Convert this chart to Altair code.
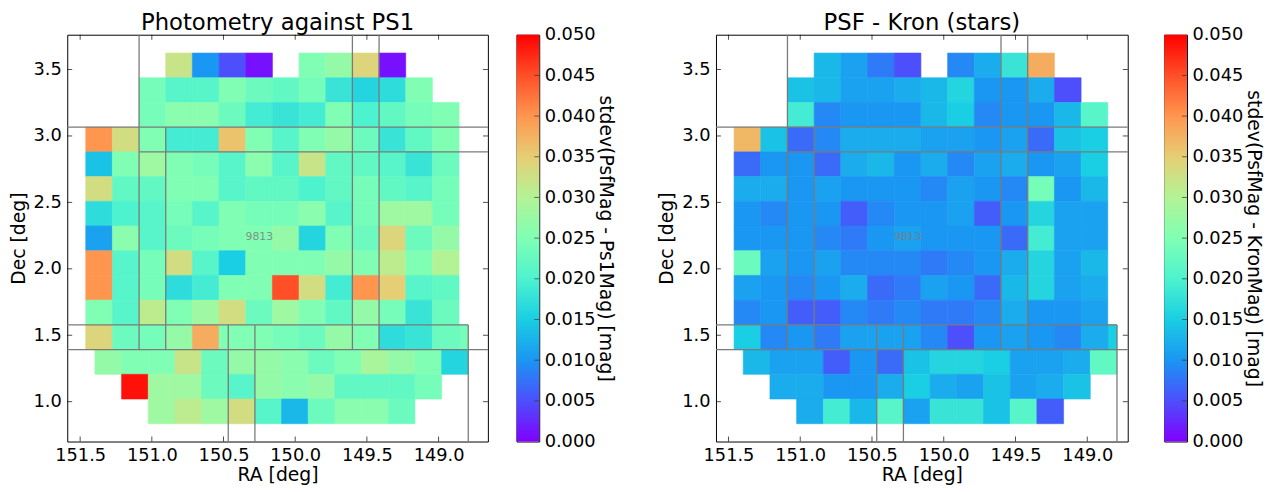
import altair as alt
import pandas as pd

FONT = "DejaVu Sans"

# ---- binning grid (deg) ----
CELL = 0.186
UPPER_RA0, UPPER_DEC0 = 151.461, 3.624
LOWER_RA0, LOWER_DEC0 = 151.397, 1.578

# rows top->bottom: (first column index, values); None = empty bin
PHOT_UPPER = [
    (3, [0.032, 0.010, 0.005, 0.001, None, 0.025, 0.027, 0.034, 0.001]),
    (2, [0.024, 0.021, 0.021, 0.025, 0.023, 0.022, 0.024, 0.018, 0.016, 0.017, 0.025]),
    (2, [0.024, 0.026, 0.026, 0.023, 0.019, 0.018, 0.019, 0.025, 0.020, 0.022, 0.024, 0.025]),
    (0, [0.040, 0.033, 0.025, 0.019, 0.019, 0.036, 0.025, 0.021, 0.025, 0.027, 0.023, 0.018, 0.022, 0.025]),
    (0, [0.014, 0.025, 0.028, 0.025, 0.024, 0.021, 0.026, 0.021, 0.032, 0.022, 0.022, 0.021, 0.018, 0.023]),
    (0, [0.033, 0.022, 0.022, 0.025, 0.025, 0.021, 0.022, 0.022, 0.020, 0.022, 0.024, 0.022, 0.021, 0.024]),
    (0, [0.017, 0.020, 0.021, 0.024, 0.021, 0.025, 0.024, 0.024, 0.026, 0.021, 0.024, 0.028, 0.028, 0.024]),
    (0, [0.011, 0.026, 0.021, 0.023, 0.024, 0.025, 0.025, 0.027, 0.016, 0.025, 0.023, 0.034, 0.023, 0.027]),
    (0, [0.040, 0.021, 0.024, 0.033, 0.021, 0.015, 0.025, 0.025, 0.025, 0.027, 0.025, 0.031, 0.025, 0.030]),
    (0, [0.040, 0.021, 0.024, 0.017, 0.019, 0.025, 0.025, 0.045, 0.033, 0.019, 0.040, 0.035, 0.021, 0.022]),
    (0, [0.025, 0.021, 0.031, 0.025, 0.028, 0.033, 0.023, 0.028, 0.025, 0.022, 0.027, 0.024, 0.018, 0.023]),
    (0, [0.034, 0.023, 0.024, 0.027, 0.038, 0.025, 0.025, 0.024, 0.023, 0.027, 0.025, 0.017, 0.018, 0.023]),
]
PHOT_LOWER = [
    (13, [0.024]),
    (0, [0.027, 0.025, 0.025, 0.032, 0.023, 0.027, 0.027, 0.026, 0.023, 0.025, 0.029, 0.027, 0.025, 0.016]),
    (1, [0.049, 0.028, 0.028, 0.023, 0.021, 0.027, 0.026, 0.027, 0.022, 0.022, 0.022, 0.024]),
    (2, [0.028, 0.031, 0.028, 0.033, 0.021, 0.013, 0.023, 0.026, 0.026, 0.023]),
]
KRON_UPPER = [
    (3, [0.013, 0.011, 0.008, 0.005, None, 0.009, 0.012, 0.018, 0.038]),
    (2, [0.014, 0.013, 0.011, 0.011, 0.012, 0.013, 0.016, 0.010, 0.010, 0.012, 0.005]),
    (2, [0.019, 0.009, 0.010, 0.010, 0.010, 0.013, 0.015, 0.009, 0.010, 0.010, 0.013, 0.021]),
    (0, [0.037, 0.014, 0.007, 0.009, 0.012, 0.012, 0.012, 0.011, 0.011, 0.010, 0.011, 0.007, 0.014, 0.015]),
    (0, [0.007, 0.010, 0.010, 0.007, 0.012, 0.013, 0.010, 0.012, 0.009, 0.011, 0.012, 0.010, 0.011, 0.015]),
    (0, [0.012, 0.012, 0.010, 0.011, 0.010, 0.010, 0.010, 0.009, 0.011, 0.010, 0.009, 0.024, 0.010, 0.013]),
    (0, [0.010, 0.009, 0.010, 0.010, 0.006, 0.009, 0.010, 0.010, 0.011, 0.006, 0.010, 0.016, 0.011, 0.011]),
    (0, [0.010, 0.010, 0.010, 0.009, 0.008, 0.010, 0.011, 0.010, 0.010, 0.010, 0.007, 0.019, 0.011, 0.011]),
    (0, [0.023, 0.011, 0.010, 0.011, 0.009, 0.009, 0.009, 0.008, 0.009, 0.010, 0.012, 0.016, 0.011, 0.013]),
    (0, [0.011, 0.010, 0.009, 0.010, 0.012, 0.007, 0.008, 0.011, 0.010, 0.007, 0.013, 0.016, 0.011, 0.012]),
    (0, [0.009, 0.010, 0.006, 0.006, 0.009, 0.008, 0.009, 0.008, 0.008, 0.009, 0.012, 0.010, 0.010, 0.011]),
    (0, [0.015, 0.009, 0.010, 0.008, 0.011, 0.011, 0.011, 0.009, 0.005, 0.010, 0.011, 0.010, 0.009, 0.012]),
]
KRON_LOWER = [
    (13, [0.015]),
    (0, [0.013, 0.011, 0.011, 0.006, 0.010, 0.007, 0.014, 0.016, 0.016, 0.015, 0.011, 0.011, 0.012, 0.022]),
    (1, [0.012, 0.012, 0.010, 0.010, 0.012, 0.015, 0.012, 0.011, 0.014, 0.011, 0.012, 0.014]),
    (2, [0.012, 0.019, 0.013, 0.021, 0.011, 0.018, 0.018, 0.014, 0.021, 0.006]),
]

# patch boundaries (deg): vertical (RA, dec from, dec to), horizontal (Dec, RA from, RA to)
PATCH_V = [(151.089, 1.392, 4.0), (150.903, 1.392, 3.066), (149.601, 1.392, 4.0),
           (149.415, 1.392, 4.0), (150.467, 0.0, 1.578), (150.281, 0.0, 1.578),
           (148.793, 0.0, 1.578)]
PATCH_H = [(3.066, 152.0, 148.0), (2.880, 151.089, 148.0), (1.578, 152.0, 148.793),
           (1.392, 152.0, 148.0)]
TRACT = ("9813", 150.25, 2.24)

X_TICKS = [151.5, 151.0, 150.5, 150.0, 149.5, 149.0]
Y_TICKS = [1.0, 1.5, 2.0, 2.5, 3.0, 3.5]
CBAR_TICKS = [0.0, 0.005, 0.010, 0.015, 0.020, 0.025, 0.030, 0.035, 0.040, 0.045, 0.050]
RAINBOW = ["#8000ff", "#4d4ffc", "#1a96f3", "#1acee3", "#4df3ce", "#80ffb4",
           "#b3f396", "#e6ce74", "#ff964f", "#ff4f28", "#ff0000"]

DEC_DOMAIN = [0.700, 3.762]
PANELS = [
    dict(title="Photometry against PS1", upper=PHOT_UPPER, lower=PHOT_LOWER,
         ra=[148.656, 151.590], width=426,
         clabel="stdev(PsfMag - Ps1Mag) [mag]"),
    dict(title="PSF - Kron (stars)", upper=KRON_UPPER, lower=KRON_LOWER,
         ra=[148.718, 151.587], width=417,
         clabel="stdev(PsfMag - KronMag) [mag]"),
]
HEIGHT = 412
TICK = dict(size=5, thickness=1, color="black")


def cells(rows, ra0, dec0):
    out = []
    for r, (c0, vals) in enumerate(rows):
        for j, v in enumerate(vals):
            if v is None:
                continue
            c = c0 + j
            out.append(dict(ra1=ra0 - CELL * c, ra2=ra0 - CELL * (c + 1),
                            dec1=dec0 - CELL * r, dec2=dec0 - CELL * (r + 1), v=v))
    return out


cscale = alt.Scale(domain=CBAR_TICKS, range=RAINBOW, interpolate="rgb", clamp=True)


def panel(p):
    w = p["width"]
    xs = alt.Scale(domain=p["ra"], reverse=True, nice=False, zero=False)
    ys = alt.Scale(domain=DEC_DOMAIN, nice=False, zero=False)
    ax_x = alt.Axis(values=X_TICKS, format=".1f", ticks=False, domain=False, grid=False,
                    labelPadding=5, titlePadding=1, labelFlush=False)
    ax_y = alt.Axis(values=Y_TICKS, format=".1f", ticks=False, domain=False, grid=False,
                    labelPadding=6, titlePadding=5, labelFlush=False)

    def X(f):
        return alt.X(f, scale=xs, axis=ax_x, title="RA [deg]")

    def Y(f):
        return alt.Y(f, scale=ys, axis=ax_y, title="Dec [deg]")

    df = pd.DataFrame(cells(p["lower"], LOWER_RA0, LOWER_DEC0) +
                      cells(p["upper"], UPPER_RA0, UPPER_DEC0))
    heat = alt.Chart(df).mark_rect(strokeWidth=0.6).encode(
        x=X("ra1:Q"), x2="ra2:Q", y=Y("dec1:Q"), y2="dec2:Q",
        color=alt.Color("v:Q", scale=cscale, legend=None),
        stroke=alt.Stroke("v:Q", scale=cscale, legend=None),
    )
    lines = [dict(a1=ra, a2=ra, d1=d1, d2=d2) for ra, d1, d2 in PATCH_V] + \
            [dict(a1=r1, a2=r2, d1=dec, d2=dec) for dec, r1, r2 in PATCH_H]
    rules = alt.Chart(pd.DataFrame(lines)).mark_rule(color="#7a7a7a", strokeWidth=1.3, clip=True).encode(
        x=X("a1:Q"), x2="a2:Q", y=Y("d1:Q"), y2="d2:Q")
    txt = alt.Chart(pd.DataFrame([dict(t=TRACT[0], ra=TRACT[1], dec=TRACT[2])])).mark_text(
        font=FONT, fontSize=11, color="#7f7f7f", opacity=0.85).encode(
        x=X("ra:Q"), y=Y("dec:Q"), text="t:N")
    xt = pd.DataFrame({"t": X_TICKS})
    yt = pd.DataFrame({"t": Y_TICKS})
    tb = alt.Chart(xt).mark_tick(orient="vertical", **TICK).encode(x=X("t:Q"), y=alt.value(HEIGHT - 2.5))
    tt = alt.Chart(xt).mark_tick(orient="vertical", **TICK).encode(x=X("t:Q"), y=alt.value(2.5))
    tl = alt.Chart(yt).mark_tick(orient="horizontal", **TICK).encode(y=Y("t:Q"), x=alt.value(2.5))
    tr = alt.Chart(yt).mark_tick(orient="horizontal", **TICK).encode(y=Y("t:Q"), x=alt.value(w - 2.5))
    return alt.layer(heat, rules, txt, tb, tt, tl, tr).properties(
        width=w, height=HEIGHT,
        title=alt.TitleParams(p["title"], fontSize=23, offset=0, anchor="middle"))


def colorbar(p):
    grad = alt.LinearGradient(
        gradient="linear",
        stops=[alt.GradientStop(color=c, offset=i / (len(RAINBOW) - 1)) for i, c in enumerate(RAINBOW)],
        x1=0, x2=0, y1=1, y2=0)
    cs = alt.Scale(domain=[CBAR_TICKS[0], CBAR_TICKS[-1]], nice=False, zero=False)
    ax = alt.Axis(orient="right", values=CBAR_TICKS, format=".3f", ticks=False,
                  domain=False, grid=False, labelPadding=5, titlePadding=1, labelFlush=False)
    df = pd.DataFrame({"lo": [CBAR_TICKS[0]], "hi": [CBAR_TICKS[-1]]})
    bar = alt.Chart(df).mark_rect(color=grad).encode(
        y=alt.Y("lo:Q", scale=cs, title=p["clabel"], axis=ax), y2="hi:Q")
    ticks = alt.Chart(pd.DataFrame({"t": CBAR_TICKS[1:-1]})).mark_tick(
        orient="horizontal", size=5, thickness=1, color="#333333").encode(
        y=alt.Y("t:Q", scale=cs, title=p["clabel"], axis=ax), x=alt.value(23 - 2.5))
    return alt.layer(bar, ticks).properties(width=23, height=HEIGHT)


left = alt.hconcat(panel(PANELS[0]), colorbar(PANELS[0]), spacing=27)
right = alt.hconcat(panel(PANELS[1]), colorbar(PANELS[1]), spacing=35)

chart = alt.hconcat(left, right, spacing=41).properties(
    padding={"left": 0, "top": 0, "right": 0, "bottom": 0}
).configure_view(stroke="black", strokeWidth=1).configure_axis(
    labelFont=FONT, titleFont=FONT, labelFontSize=18, titleFontSize=19,
    titleFontWeight="normal", labelColor="black", titleColor="black"
).configure_title(font=FONT, fontSize=23, fontWeight="normal", color="black")

chart.save("out.html", embed_options={"renderer": "svg", "actions": False})
